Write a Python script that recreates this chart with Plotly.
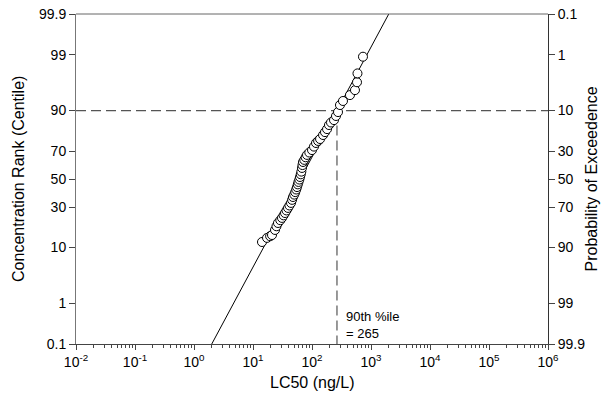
import plotly.graph_objects as go
from statistics import NormalDist

# observed LC50 values (ng/L) and their rank percentile
lc50 = [14.2, 17.3, 19.5, 21.0, 23.6, 25.0, 26.5, 29.0, 31.0, 33.0, 34.9, 37.0,
        39.2, 41.5, 44.1, 46.0, 47.6, 50.0, 52.0, 54.0, 55.7, 57.5, 59.0, 61.0,
        62.6, 64.5, 66.0, 67.7, 69.0, 70.4, 74.0, 78.0, 82.3, 90.0, 100, 108,
        117, 127, 137, 154, 166, 180, 194, 210, 236, 255, 276, 298, 335, 440,
        535, 579, 590, 731]
centile = [11.9, 13.5, 14.2, 14.7, 17.0, 18.8, 20.5, 22.0, 23.3, 24.8, 26.2, 27.8,
           29.4, 31.0, 32.7, 34.8, 36.8, 38.5, 40.3, 42.2, 44.0, 46.0, 47.8, 49.6,
           51.5, 53.5, 55.5, 58.2, 60.3, 62.5, 64.0, 65.8, 67.4, 69.0, 70.6, 72.8,
           75.0, 76.2, 77.3, 79.5, 81.0, 82.5, 84.4, 85.5, 86.5, 88.1, 89.5, 91.7,
           92.8, 94.2, 95.2, 96.5, 97.6, 98.9]

# fitted log-normal line
fit_x = [2.0, 2000.0]
fit_y = [0.1, 99.9]

p90_value = 265
p90_centile = 90

rank_ticks = [0.1, 1, 10, 30, 50, 70, 90, 99, 99.9]
rank_labels = ["0.1", "1", "10", "30", "50", "70", "90", "99", "99.9"]
exceed_labels = ["99.9", "99", "90", "70", "50", "30", "10", "1", "0.1"]
x_ticks = [0.01, 0.1, 1, 10, 100, 1000, 1e4, 1e5, 1e6]
x_labels = ["10<sup>-2</sup>", "10<sup>-1</sup>", "10<sup>0</sup>", "10<sup>1</sup>",
            "10<sup>2</sup>", "10<sup>3</sup>", "10<sup>4</sup>", "10<sup>5</sup>",
            "10<sup>6</sup>"]

nd = NormalDist()


def probit(vals):
    return [nd.inv_cdf(v / 100.0) for v in vals]


zmax = nd.inv_cdf(0.999)
zmin = -zmax
font = "Liberation Sans, Arial, sans-serif"
dash_col = "#555555"

fig = go.Figure()

fig.add_trace(go.Scatter(
    x=fit_x, y=probit(fit_y), mode="lines",
    line=dict(color="black", width=1), showlegend=False, hoverinfo="skip"))

# 90th percentile guide lines
fig.add_trace(go.Scatter(
    x=[0.01, 1e6], y=probit([p90_centile, p90_centile]), mode="lines",
    line=dict(color=dash_col, width=1.2, dash="10px,5px"), showlegend=False))
fig.add_trace(go.Scatter(
    x=[p90_value, p90_value], y=[nd.inv_cdf(p90_centile / 100.0), zmin], mode="lines",
    line=dict(color=dash_col, width=1.2, dash="10px,5px"), showlegend=False))

fig.add_trace(go.Scatter(
    x=lc50, y=probit(centile), mode="markers",
    marker=dict(size=9, color="white", line=dict(color="black", width=1)),
    showlegend=False))

# dummy trace so the right axis is drawn
fig.add_trace(go.Scatter(x=[1], y=[0], yaxis="y2", mode="markers",
                         marker=dict(opacity=0), showlegend=False, hoverinfo="skip"))

fig.add_annotation(x=2.423, y=zmin, xref="x", yref="y", text="90th %ile<br>= 265",
                   showarrow=False, xanchor="left", yanchor="bottom", align="left",
                   xshift=7, yshift=1, font=dict(family=font, size=13, color="black"))

# axis titles
fig.add_annotation(x=0.5, y=-0.118, xref="paper", yref="paper", text="LC50 (ng/L)",
                   showarrow=False, xanchor="center", yanchor="middle",
                   font=dict(family=font, size=16, color="black"))
fig.add_annotation(x=-0.123, y=0.5, xref="paper", yref="paper",
                   text="Concentration Rank (Centile)", textangle=-90,
                   showarrow=False, xanchor="center", yanchor="middle",
                   font=dict(family=font, size=16, color="black"))
fig.add_annotation(x=1.092, y=0.5, xref="paper", yref="paper",
                   text="Probability of Exceedence", textangle=-90,
                   showarrow=False, xanchor="center", yanchor="middle",
                   font=dict(family=font, size=16, color="black"))

# page body adds an 8px offset, so the figure is 8px smaller each way
fig.update_layout(
    width=601, height=396,
    margin=dict(l=68, r=61, t=6, b=60, autoexpand=False),
    paper_bgcolor="white", plot_bgcolor="white",
    font=dict(family=font, size=14, color="black"),
    xaxis=dict(
        type="log", range=[-2, 6], tickvals=x_ticks, ticktext=x_labels,
        showgrid=False, zeroline=False, showline=True, linecolor="#444444",
        ticks="outside", ticklen=5, tickcolor="#444444", automargin=False,
        ticklabeloverflow="allow",
        minor=dict(ticks="outside", ticklen=3, dtick="D1", tickcolor="#444444", showgrid=False),
    ),
    yaxis=dict(
        range=[zmin, zmax], tickvals=probit(rank_ticks), ticktext=rank_labels,
        showgrid=False, zeroline=False, showline=True, linecolor="#777777",
        ticks="outside", ticklen=6, tickcolor="#444444", automargin=False,
        ticklabeloverflow="allow",
    ),
    yaxis2=dict(
        overlaying="y", side="right", range=[zmin, zmax],
        tickvals=probit(rank_ticks), ticktext=exceed_labels,
        showgrid=False, zeroline=False, showline=True, linecolor="#333333",
        ticks="outside", ticklen=6, tickcolor="#444444", automargin=False,
        ticklabeloverflow="allow",
    ),
)

# top border line at 99.9
fig.add_shape(type="line", xref="paper", yref="paper", x0=0, x1=1, y0=1, y1=1,
              line=dict(color="#666666", width=1))

fig.write_html("out.html")
